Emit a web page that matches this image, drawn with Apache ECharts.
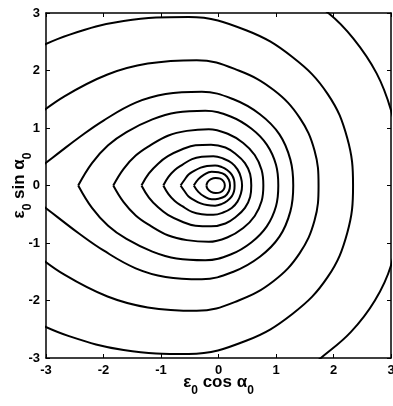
<!DOCTYPE html>
<html style="height: 100%">
<head>
    <meta charset="utf-8">
    <script src="https://cdn.jsdelivr.net/npm/echarts@6/dist/echarts.min.js"></script>
</head>
<body style="height: 100%; margin: 0; background: #fff">
    <div id="container" style="width: 393px; height: 406px"></div>
    <script type="text/javascript">
        // contour lines in data units [x, y]
        var c0 = [[1.35, 3.35], [1.91, 3.0], [2.35, 2.55], [2.75, 1.95], [3.0, 1.31], [3.12, 0.7], [3.15, 0],
            [3.12, -0.7], [3.0, -1.39], [2.72, -2.0], [2.3, -2.55], [1.78, -3.0], [1.35, -3.35]];
        var c1 = [[-3.3, 2.32], [-2.6, 2.62], [-1.65, 2.86], [-0.52, 2.93], [0.48, 2.7], [1.29, 2.23], [1.9, 1.59], [2.24, 0.82], [2.34, 0],
            [2.24, -0.82], [1.9, -1.59], [1.29, -2.23], [0.48, -2.7], [-0.52, -2.93], [-1.65, -2.86], [-2.6, -2.62], [-3.3, -2.32]];
        var c2 = [[-3.21, 1.17], [-2.68, 1.55], [-1.93, 1.93], [-1.23, 2.12], [-0.38, 2.18], [0.35, 2.0], [0.96, 1.66], [1.41, 1.18], [1.67, 0.61], [1.74, 0],
            [1.67, -0.61], [1.41, -1.18], [0.96, -1.66], [0.35, -2.0], [-0.38, -2.18], [-1.23, -2.12], [-1.93, -1.93], [-2.68, -1.55], [-3.21, -1.17]];
        var c3 = [[-3.1, 0.32], [-2.8, 0.55], [-2.42, 0.84], [-2.0, 1.13], [-1.44, 1.44], [-0.92, 1.59], [-0.29, 1.63], [0.26, 1.5], [0.72, 1.24], [1.06, 0.89], [1.25, 0.45], [1.3, 0],
            [1.25, -0.45], [1.06, -0.89], [0.72, -1.24], [0.26, -1.5], [-0.29, -1.63], [-0.92, -1.59], [-1.44, -1.44], [-2.0, -1.13], [-2.42, -0.84], [-2.8, -0.55], [-3.1, -0.32]];
        var c4 = [[-2.44, 0], [-2.2, 0.39], [-1.92, 0.7], [-1.6, 0.93], [-1.15, 1.15], [-0.73, 1.27], [-0.23, 1.3], [0.21, 1.2], [0.57, 0.99], [0.84, 0.71], [1.0, 0.36], [1.04, 0],
            [1.0, -0.36], [0.84, -0.71], [0.57, -0.99], [0.21, -1.2], [-0.23, -1.3], [-0.73, -1.27], [-1.15, -1.15], [-1.6, -0.93], [-1.92, -0.7], [-2.2, -0.39], [-2.44, 0]];
        var c5 = [[-1.83, 0], [-1.65, 0.29], [-1.44, 0.52], [-1.2, 0.69], [-0.87, 0.87], [-0.55, 0.95], [-0.17, 0.98], [0.16, 0.9], [0.43, 0.74], [0.63, 0.53], [0.75, 0.27], [0.78, 0],
            [0.75, -0.27], [0.63, -0.53], [0.43, -0.74], [0.16, -0.9], [-0.17, -0.98], [-0.55, -0.95], [-0.87, -0.87], [-1.2, -0.69], [-1.44, -0.52], [-1.65, -0.29], [-1.83, 0]];
        var c6 = [[-1.34, 0], [-1.21, 0.21], [-1.05, 0.38], [-0.88, 0.51], [-0.63, 0.63], [-0.4, 0.7], [-0.13, 0.71], [0.12, 0.66], [0.31, 0.54], [0.46, 0.39], [0.55, 0.2], [0.57, 0],
            [0.55, -0.2], [0.46, -0.39], [0.31, -0.54], [0.12, -0.66], [-0.13, -0.71], [-0.4, -0.7], [-0.63, -0.63], [-0.88, -0.51], [-1.05, -0.38], [-1.21, -0.21], [-1.34, 0]];
        var c7 = [[-0.96, 0], [-0.87, 0.15], [-0.76, 0.27], [-0.63, 0.36], [-0.46, 0.46], [-0.29, 0.5], [-0.09, 0.51], [0.08, 0.47], [0.23, 0.39], [0.33, 0.28], [0.39, 0.14], [0.41, 0],
            [0.39, -0.14], [0.33, -0.28], [0.23, -0.39], [0.08, -0.47], [-0.09, -0.51], [-0.29, -0.5], [-0.46, -0.46], [-0.63, -0.36], [-0.76, -0.27], [-0.87, -0.15], [-0.96, 0]];
        var c8 = [[-0.66, 0], [-0.59, 0.1], [-0.52, 0.19], [-0.43, 0.25], [-0.31, 0.31], [-0.2, 0.34], [-0.06, 0.35], [0.06, 0.32], [0.15, 0.27], [0.23, 0.19], [0.27, 0.1], [0.28, 0],
            [0.27, -0.1], [0.23, -0.19], [0.15, -0.27], [0.06, -0.32], [-0.06, -0.35], [-0.2, -0.34], [-0.31, -0.31], [-0.43, -0.25], [-0.52, -0.19], [-0.59, -0.1], [-0.66, 0]];
        var c9 = [[-0.43, 0], [-0.35, 0.11], [-0.25, 0.19], [-0.12, 0.24], [0.0, 0.23], [0.11, 0.19], [0.18, 0.1], [0.2, 0],
            [0.18, -0.1], [0.11, -0.19], [0.0, -0.23], [-0.12, -0.24], [-0.25, -0.19], [-0.35, -0.11], [-0.43, 0]];
        var c10 = [[-0.21, 0], [-0.19, 0.06], [-0.13, 0.11], [-0.05, 0.13], [0.03, 0.12], [0.09, 0.07], [0.11, 0],
            [0.09, -0.07], [0.03, -0.12], [-0.05, -0.13], [-0.13, -0.11], [-0.19, -0.06], [-0.21, 0]];

        var contours = [c0, c1, c2, c3, c4, c5, c6, c7, c8, c9, c10];
        var ticks = [-3, -2, -1, 0, 1, 2, 3];

        var dom = document.getElementById("container");
        var myChart = echarts.init(dom);

        var labelFont = {
            color: '#000',
            fontFamily: 'Liberation Sans',
            fontWeight: 'bold',
            fontSize: 13
        };

        // axis titles with lowered subscripts
        var nameRich = {
            a: { fontFamily: 'Liberation Sans', fontWeight: 'bold', fontSize: 17, color: '#000', lineHeight: 19, verticalAlign: 'top' },
            s: { fontFamily: 'Liberation Sans', fontWeight: 'bold', fontSize: 12, color: '#000', lineHeight: 13, verticalAlign: 'top', padding: [11, 0, 0, 0] }
        };

        var series = contours.map(function (c) {
            return {
                type: 'line',
                data: c,
                smooth: 0.4,
                showSymbol: false,
                clip: true,
                silent: true,
                lineStyle: { color: '#000', width: 2 }
            };
        });

        function axis(pos, show, name, gap) {
            return {
                type: 'value',
                position: pos,
                min: ticks[0],
                max: ticks[ticks.length - 1],
                interval: 1,
                name: name,
                nameLocation: 'middle',
                nameGap: gap,
                nameMoveOverlap: false,
                nameTextStyle: { rich: nameRich },
                axisLine: { show: true, onZero: false, lineStyle: { color: '#000', width: 1.5 } },
                axisTick: { show: true, inside: true, length: 4, lineStyle: { color: '#000', width: 1 } },
                axisLabel: Object.assign({ show: show, margin: 6 }, labelFont),
                splitLine: { show: false }
            };
        }

        myChart.setOption({
            animation: false,
            backgroundColor: '#fff',
            grid: { left: 46, right: 2, top: 13, bottom: 48, containLabel: false, outerBoundsMode: 'none' },
            xAxis: [
                axis('bottom', true, '{a|ε}{s|0}{a| cos α}{s|0}', 16),
                axis('top', false, '', 0)
            ],
            yAxis: [
                axis('left', true, '{a|ε}{s|0}{a| sin α}{s|0}', 16),
                axis('right', false, '', 0)
            ],
            series: series
        });
    </script>
</body>
</html>
